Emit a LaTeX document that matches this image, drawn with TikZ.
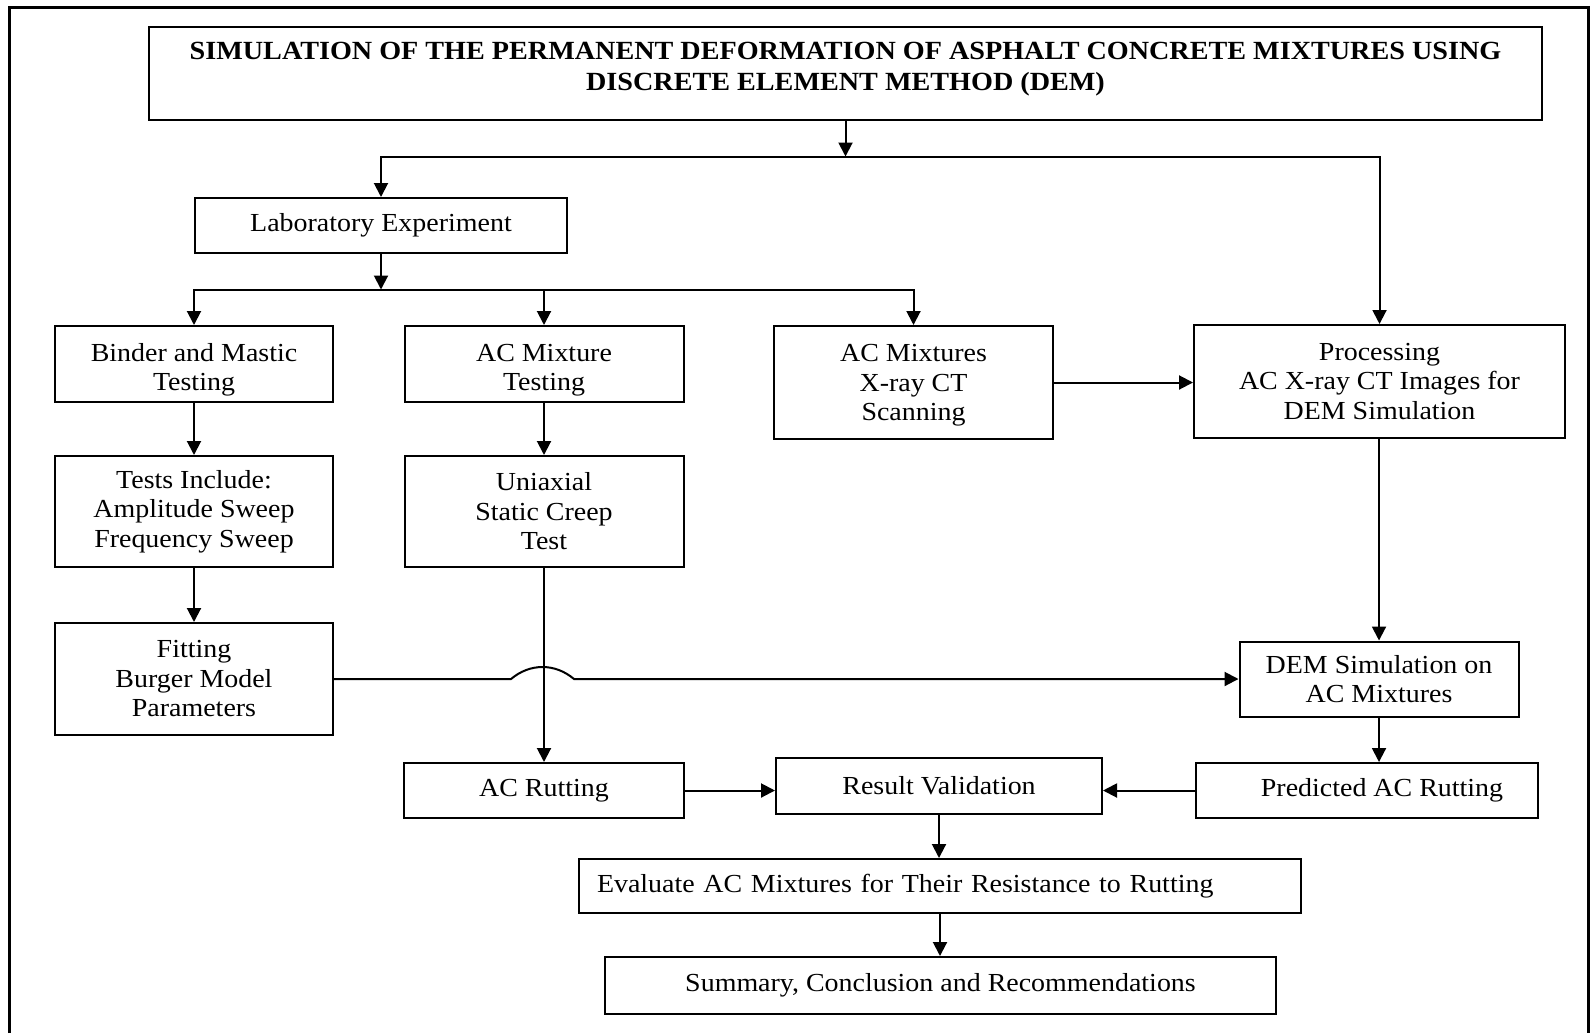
\documentclass[tikz,border=0pt]{standalone}
\usepackage{fontspec}
\setmainfont{Liberation Serif}[FakeStretch=1.075]
\usetikzlibrary{arrows.meta}
\begin{document}
\begin{tikzpicture}[x=0.5pt,y=-0.5pt,
  box/.style={draw, line width=1pt, align=center, inner sep=0pt,
    font=\fontsize{13}{14.75}\selectfont},
  txt/.style={align=center, inner sep=0pt, font=\fontsize{13}{14.75}\selectfont},
  arr/.style={line width=1pt, -{Triangle[length=7pt,width=7pt]}},
  frame/.style={line width=1.5pt}]
\useasboundingbox (0,0) rectangle (1593,1033);
\draw[frame] (9.5,1033) -- (9.5,7) -- (1588,7) -- (1588,1033);

% title
\node[box, minimum width=696.5pt, minimum height=46.5pt] (title) at (845.5,73.5) {};
\node[font=\fontsize{13.1}{15.25}\selectfont\bfseries, align=center, inner sep=0pt] (titletext) at (845.5,69)
  {SIMULATION OF THE PERMANENT DEFORMATION OF ASPHALT CONCRETE MIXTURES USING\\DISCRETE ELEMENT METHOD (DEM)};

% boxes
\node[box, minimum width=186pt, minimum height=27.5pt] (lab) at (381,225.5) {Laboratory Experiment};
\node[box, minimum width=139pt, minimum height=38pt] (binder) at (194,364) {};
\node[txt] (bindertext) at (194,370) {Binder and Mastic\\Testing};
\node[box, minimum width=139.5pt, minimum height=38pt] (acmix) at (544,364) {};
\node[txt] (acmixtext) at (544,370) {AC Mixture\\Testing};
\node[box, minimum width=139.5pt, minimum height=56.5pt] (xray) at (913.5,382.5) {};
\node[txt] (xraytext) at (913.5,385.5) {AC Mixtures\\X-ray CT\\Scanning};
\node[box, minimum width=185.5pt, minimum height=56.5pt] (proc) at (1379.5,381.5) {Processing\\AC X-ray CT Images for\\DEM Simulation};
\node[box, minimum width=139pt, minimum height=55.5pt] (tests) at (194,511.5) {Tests Include:\\Amplitude Sweep\\Frequency Sweep};
\node[box, minimum width=139.5pt, minimum height=55.5pt] (unix) at (544,511.5) {Uniaxial\\Static Creep\\Test};
\node[box, minimum width=139pt, minimum height=56pt] (fit) at (194,679) {Fitting\\Burger Model\\Parameters};
\node[box, minimum width=139.5pt, minimum height=37.5pt] (dem) at (1379,679) {DEM Simulation on\\AC Mixtures};
\node[box, minimum width=140pt, minimum height=27.5pt] (acr) at (544,790.5) {AC Rutting};
\node[box, minimum width=163pt, minimum height=28pt] (rv) at (939,786) {Result Validation};
\node[box, minimum width=171pt, minimum height=27.5pt] (pred) at (1367,790.5) {};
\node[txt] (predtext) at (1382,790.5) {Predicted AC Rutting};
\node[box, minimum width=361pt, minimum height=27pt, text width=343pt, inner xsep=9pt, align=left] (eval) at (940,886)
  {Evaluate AC Mixtures for Their Resistance to Rutting};
\node[box, minimum width=335.5pt, minimum height=28.5pt] (summ) at (940.5,985.5) {Summary, Conclusion and Recommendations};

% connectors
\coordinate (s1) at (845.5,156.5);
\coordinate (s2) at (381,289.5);
\draw[arr] (title.south) -- (s1);
\draw[arr] (s1) -- (s1 -| lab.north) -- (lab.north);
\draw[arr] (s1) -- (s1 -| proc.north) -- (proc.north);
\draw[arr] (lab.south) -- (s2);
\draw[arr] (s2) -- (s2 -| binder.north) -- (binder.north);
\draw[arr] (s2 -| acmix.north) -- (acmix.north);
\draw[arr] (s2) -- (s2 -| xray.north) -- (xray.north);
\draw[arr] (binder.south) -- (tests.north);
\draw[arr] (acmix.south) -- (unix.north);
\draw[arr] (tests.south) -- (fit.north);
\draw[arr] (xray.east) -- (xray.east -| proc.west);
\draw[arr] (proc.south -| dem.north) -- (dem.north);
\draw[arr] (fit.east) -- (511,679) .. controls (530,663) and (555,663) .. (574,679) -- (dem.west);
\draw[arr] (unix.south) -- (acr.north);
\draw[arr] (dem.south) -- (dem.south |- pred.north);
\draw[arr] (acr.east) -- (acr.east -| rv.west);
\draw[arr] (pred.west) -- (pred.west -| rv.east);
\draw[arr] (rv.south) -- (rv.south |- eval.north);
\draw[arr] (eval.south) -- (eval.south |- summ.north);
\end{tikzpicture}
\end{document}
